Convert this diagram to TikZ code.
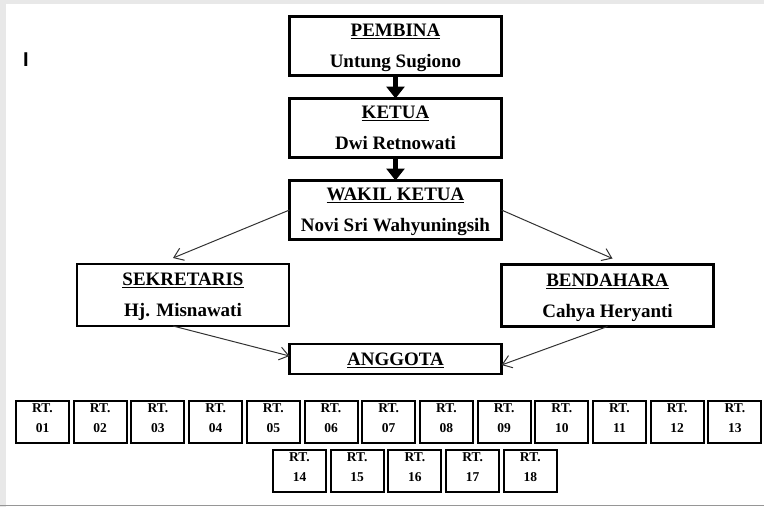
\documentclass[tikz,border=0pt]{standalone}
\usepackage{fontspec}
\setmainfont{Liberation Serif}
\setsansfont{Liberation Sans}
\usetikzlibrary{arrows.meta, positioning}
\definecolor{cFrame}{RGB}{232, 232, 232}
\definecolor{bFrame}{RGB}{150, 150, 150}
\definecolor{tLine}{RGB}{50, 50, 50}
% underlined heading with a heavier rule
\newcommand{\undertitle}[1]{\setbox0\hbox{#1}\rlap{\rule[-2.6pt]{\wd0}{1.1pt}}\box0}

\begin{document}
\begin{tikzpicture}[
    x=1pt, y=-1pt,
    font=\bfseries,
    node distance=23pt,
    orgbox/.style={
        draw=black,
        line width=2.2pt,
        align=center,
        minimum width=212pt,
        minimum height=#1,
        inner sep=0pt,
        outer sep=0pt,
        text depth=0pt,
        font=\bfseries\fontsize{19}{31}\selectfont
    },
    orgbox/.default=59pt,
    rtbox/.style={
        draw=black,
        line width=2pt,
        align=center,
        minimum width=53pt,
        minimum height=42pt,
        inner sep=0pt,
        outer sep=0pt,
        text depth=7pt,
        font=\bfseries\fontsize{13.5}{20}\selectfont
    },
    fatarrow/.style={-{Triangle[length=12pt,width=18pt]}, line width=5.5pt},
    thinarrow/.style={-{Straight Barb[length=9pt,width=13pt]}, line width=1pt, color=tLine}
]
\useasboundingbox (0,0) rectangle (764,507);

% screenshot frame
\fill[cFrame] (0,0) rectangle (764,4);
\fill[cFrame] (0,0) rectangle (6,507);
\draw[bFrame, line width=1pt] (0,505.5) -- (764,505.5);

\node[font=\sffamily\bfseries\fontsize{20}{22}\selectfont] (cursor) at (26,59.5) {I};

% Main column
\node[orgbox] (pembina) at (395.5,46) {\undertitle{PEMBINA}\\Untung Sugiono};
\node[orgbox, below=of pembina] (ketua) {\undertitle{KETUA}\\Dwi Retnowati};
\node[orgbox, below=of ketua] (wakil) {\undertitle{WAKIL KETUA}\\Novi Sri Wahyuningsih};

\draw[fatarrow] (pembina) -- (ketua);
\draw[fatarrow] (ketua) -- (wakil);

% Second level
\node[orgbox=62pt] (sekretaris) at (183,295) {\undertitle{SEKRETARIS}\\Hj. Misnawati};
\node[orgbox=62pt] (bendahara) at (607.5,295.5) {\undertitle{BENDAHARA}\\Cahya Heryanti};
\node[orgbox=30pt] (anggota) at (395.5,359) {\undertitle{ANGGOTA}};

\draw[thinarrow] (wakil.west) -- ([xshift=-10pt,yshift=6pt]sekretaris.north);
\draw[thinarrow] (wakil.east) -- ([xshift=5pt,yshift=6pt]bendahara.north);
\draw[thinarrow] ([xshift=-10pt]sekretaris.south) -- ([yshift=3pt]anggota.west);
\draw[thinarrow] (bendahara.south) -- ([yshift=-6pt]anggota.east);

% RT row 1
\node[rtbox] (rt01) at (42.5,422) {RT.\\01};
\node[rtbox, right=4.7pt of rt01] (rt02) {RT.\\02};
\node[rtbox, right=4.7pt of rt02] (rt03) {RT.\\03};
\node[rtbox, right=4.7pt of rt03] (rt04) {RT.\\04};
\node[rtbox, right=4.7pt of rt04] (rt05) {RT.\\05};
\node[rtbox, right=4.7pt of rt05] (rt06) {RT.\\06};
\node[rtbox, right=4.7pt of rt06] (rt07) {RT.\\07};
\node[rtbox, right=4.7pt of rt07] (rt08) {RT.\\08};
\node[rtbox, right=4.7pt of rt08] (rt09) {RT.\\09};
\node[rtbox, right=4.7pt of rt09] (rt10) {RT.\\10};
\node[rtbox, right=4.7pt of rt10] (rt11) {RT.\\11};
\node[rtbox, right=4.7pt of rt11] (rt12) {RT.\\12};
\node[rtbox, right=4.7pt of rt12] (rt13) {RT.\\13};

% RT row 2
\node[rtbox] (rt14) at (299.5,470.5) {RT.\\14};
\node[rtbox, right=4.7pt of rt14] (rt15) {RT.\\15};
\node[rtbox, right=4.7pt of rt15] (rt16) {RT.\\16};
\node[rtbox, right=4.7pt of rt16] (rt17) {RT.\\17};
\node[rtbox, right=4.7pt of rt17] (rt18) {RT.\\18};

\end{tikzpicture}
\end{document}
